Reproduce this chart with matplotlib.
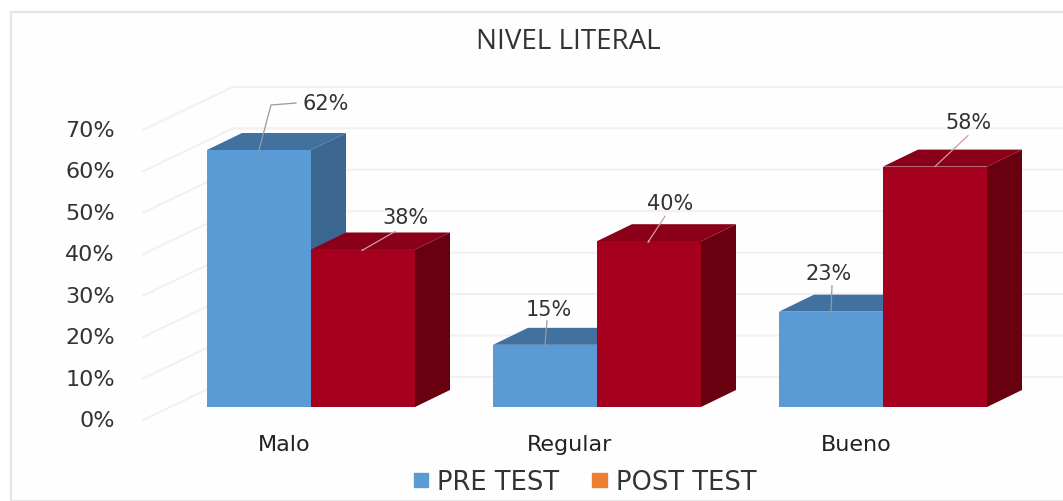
import matplotlib
matplotlib.use("Agg")
import matplotlib.pyplot as plt
from matplotlib.patches import Polygon, Patch, Rectangle

title = "NIVEL LITERAL"
categories = ["Malo", "Regular", "Bueno"]
pre_test = [62, 15, 23]
post_test = [38, 40, 58]
y_ticks = [0, 10, 20, 30, 40, 50, 60, 70]

# layout, in reference pixels
W, H = 1063, 502
X0_PX, Y0_PX = 311, 408      # centre of first group, bar baseline
PX_PER_CAT, PX_PER_PCT = 286, 4.145
BAR_W = 104 / PX_PER_CAT
DX, DY = 35 / PX_PER_CAT, 17 / PX_PER_PCT   # 3-D depth of bars
WALL_DX, WALL_DY = 90 / PX_PER_CAT, 43 / PX_PER_PCT  # depth of the side wall
# data-label leaders: pixel offsets from the centre of the bar's top edge
pre_leaders = [[(12, 45), (37, 47)], [(2, 24)], [(1, 26)]]
pre_text = [(67, 47), (4, 36), (-2, 39)]
post_leaders = [[(-1, -1), (32, 18)], [(-1, -1), (16, 25)], [(1, 1), (33, 31)]]
post_text = [(42, 32), (21, 38), (33, 45)]

BLUE, BLUE_TOP, BLUE_SIDE = "#5b9bd5", "#41719f", "#3a6690"
RED, RED_TOP, RED_SIDE = "#a5001e", "#8a0018", "#680010"
GRID = "#f1f1f1"
TXT = "#333333"
FONT = "DejaVu Sans"

fig = plt.figure(figsize=(W / 100, H / 100), dpi=100, facecolor="white")
ax = fig.add_axes([0, 0, 1, 1])
ax.set_xlim(-X0_PX / PX_PER_CAT, (W - X0_PX) / PX_PER_CAT)
ax.set_ylim((Y0_PX - H) / PX_PER_PCT, Y0_PX / PX_PER_PCT)
ax.axis("off")

x_px = lambda d: d / PX_PER_CAT
y_px = lambda d: d / PX_PER_PCT

# chart frame
ax.add_patch(Rectangle((x_px(11 - X0_PX), y_px(Y0_PX - 502)), x_px(1100), y_px(489),
                       facecolor="#fefefe", edgecolor="#e6e6e6", lw=1.6, zorder=0))

# grid and axis labels
x_wall = x_px(143 - X0_PX)
off = y_px(13)
for v in y_ticks:
    ax.plot([x_wall, x_wall + WALL_DX, ax.get_xlim()[1]],
            [v - off, v - off + WALL_DY, v - off + WALL_DY],
            color=GRID, lw=1.5, zorder=1)
    ax.text(x_px(115 - X0_PX), v - off, f"{v}%", ha="right", va="center",
            fontsize=16, color=TXT, family=FONT, zorder=5)


def bar3d(x, v, front, top, side, z):
    ax.bar(x, v, BAR_W, color=front, linewidth=0, zorder=z + 0.2)
    l, r = x - BAR_W / 2, x + BAR_W / 2
    ax.add_patch(Polygon([(r, 0), (r + DX, DY), (r + DX, v + DY), (r, v)],
                         facecolor=side, edgecolor="none", zorder=z))
    ax.add_patch(Polygon([(l, v), (l + DX, v + DY), (r + DX, v + DY), (r, v)],
                         facecolor=top, edgecolor="none", zorder=z + 0.1))


def label(x, v, pts, tpos, z):
    xs = [x] + [x + x_px(p[0]) for p in pts]
    ys = [v] + [v + y_px(p[1]) for p in pts]
    ax.plot(xs, ys, color="#9a9a9a" if z < 9 else "#c8a0a0", lw=0.9, zorder=8)
    ax.text(x + x_px(tpos[0]), v + y_px(tpos[1]), f"{v}%", ha="center", va="center",
            fontsize=15, color=TXT, family=FONT, zorder=9)


for i, cat in enumerate(categories):
    xa, xb = i - BAR_W / 2, i + BAR_W / 2
    bar3d(xa, pre_test[i], BLUE, BLUE_TOP, BLUE_SIDE, 2 + i * 2)
    bar3d(xb, post_test[i], RED, RED_TOP, RED_SIDE, 3 + i * 2)
    label(xa, pre_test[i], pre_leaders[i], pre_text[i], 8)
    label(xb, post_test[i], post_leaders[i], post_text[i], 9)
    ax.text(i - x_px(27), y_px(-37), cat, ha="center", va="center",
            fontsize=16, color="#222222", family=FONT)

ax.text(x_px(568 - X0_PX), y_px(Y0_PX - 42), title, ha="center", va="center",
        fontsize=20, color="#333333", family="Open Sans", weight="medium")

handles = [Patch(color=BLUE, label="PRE TEST"), Patch(color="#ed7d31", label="POST TEST")]
ax.legend(handles=handles, loc="center", bbox_to_anchor=(585 / W, 1 - 483 / H),
          ncol=2, frameon=False, handlelength=0.55, handleheight=0.5, handletextpad=0.35,
          columnspacing=1.3, labelcolor=TXT, prop={"family": FONT, "size": 18.5},
          borderaxespad=0, borderpad=0)

fig.savefig("out.png", dpi=100, facecolor="white")
